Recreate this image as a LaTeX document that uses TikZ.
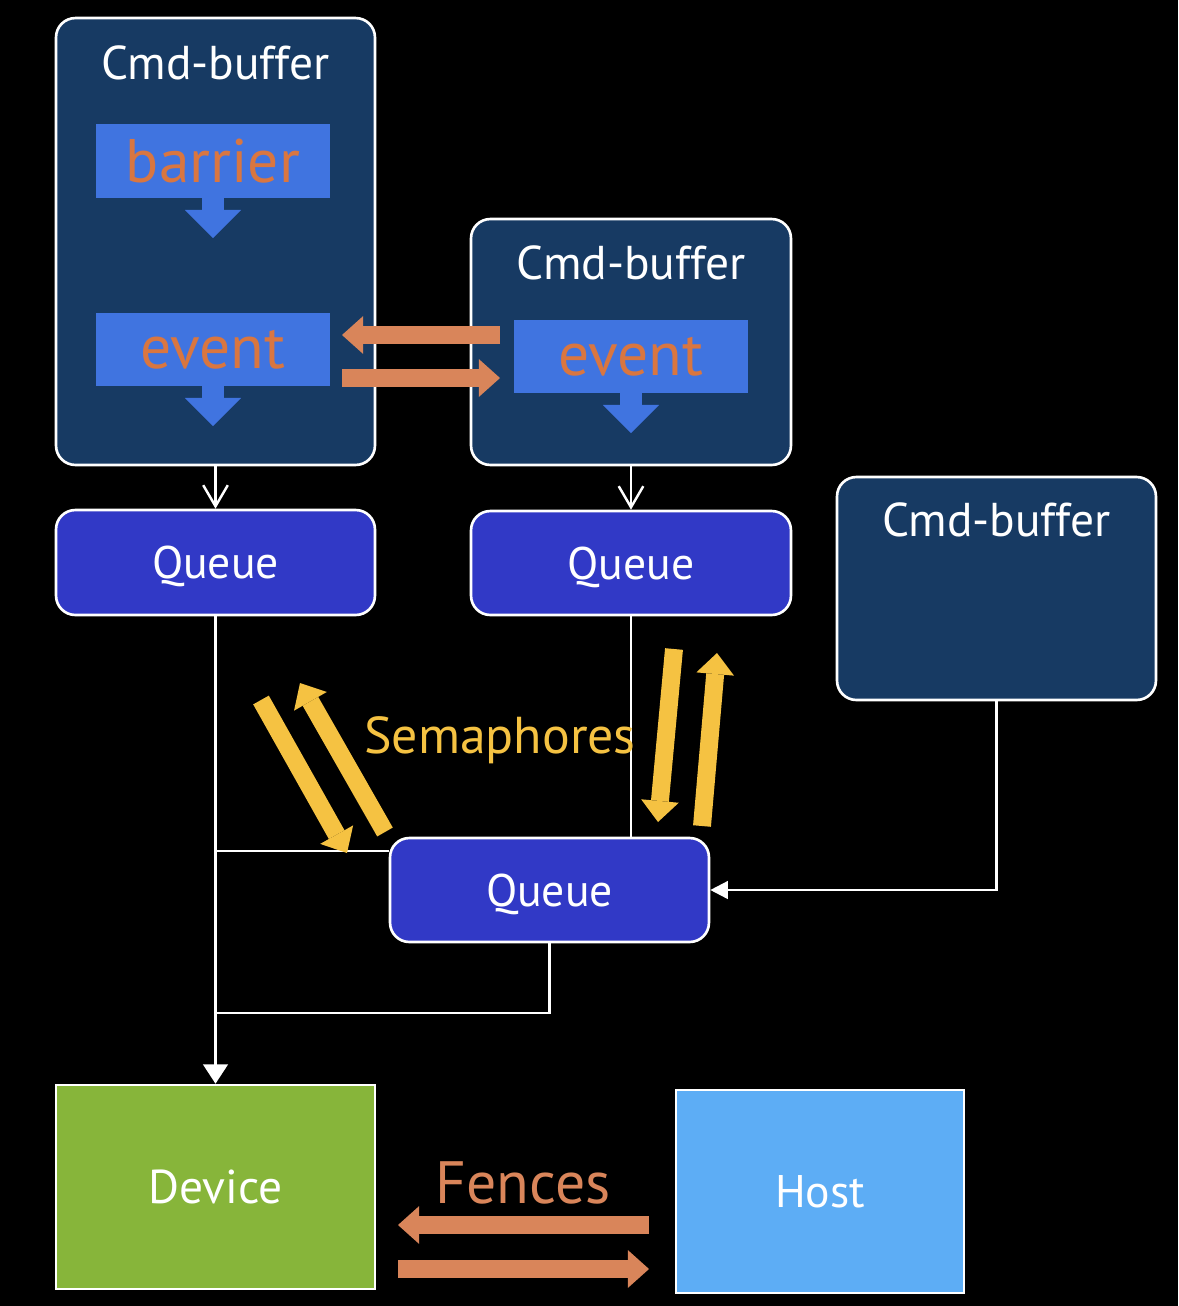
\documentclass[tikz,border=0pt]{standalone}
\usepackage{fontspec}
\setmainfont{PT Sans}
\usetikzlibrary{arrows.meta}
\definecolor{navy}{RGB}{23,58,99}
\definecolor{iblue}{RGB}{64,116,224}
\definecolor{otext}{RGB}{217,118,64}
\definecolor{ora}{RGB}{217,133,90}
\definecolor{qblue}{RGB}{49,57,198}
\definecolor{yel}{RGB}{245,194,66}
\definecolor{devgreen}{RGB}{135,181,58}
\definecolor{hostblue}{RGB}{93,173,245}
\begin{document}
\begin{tikzpicture}[x=0.02cm,y=-0.02cm,
  cmdbox/.style={draw=white,line width=1.5pt,fill=navy,rounded corners=11pt,inner sep=0pt},
  qbox/.style={draw=white,line width=1.5pt,fill=qblue,rounded corners=11pt,text=white,font=\fontsize{26}{31}\selectfont,inner sep=0pt,text depth=0pt},
  sqbox/.style={draw=white,line width=1.5pt,text=white,font=\fontsize{27}{32}\selectfont,inner sep=0pt},
  cmdtitle/.style={text=white,font=\fontsize{27}{32}\selectfont,inner sep=0pt},
  cmdinner/.style={fill=iblue,text=otext,font=\fontsize{35}{40}\selectfont,inner sep=0pt,minimum width=4.68cm},
  flow/.style={draw=iblue,line width=13pt,-{Triangle[width=32pt,length=16pt,line width=0pt]}},
  fat/.style={line width=10.2pt,-{Triangle[width=21.5pt,length=12pt,line width=0pt]}},
  wire/.style={draw=white,line width=1.4pt}
]
\fill[black] (0,0) rectangle (1178,1306);
\useasboundingbox (0,0) rectangle (1178,1306);

% command buffers
\node[cmdbox,minimum width=6.38cm,minimum height=8.94cm] (cb1) at (215.5,241.5) {};
\node[cmdtitle] (cb1t) at (215.5,63) {Cmd-buffer};
\node[cmdinner,minimum height=1.48cm] (bar) at (213,161) {barrier};
\node[cmdinner,minimum height=1.46cm] (ev1) at (213,349.5) {event};
\node[cmdbox,minimum width=6.4cm,minimum height=4.92cm] (cb2) at (631,342) {};
\node[cmdtitle] (cb2t) at (631,263) {Cmd-buffer};
\node[cmdinner,minimum height=1.46cm] (ev2) at (631,356.5) {event};
\node[cmdbox,minimum width=6.38cm,minimum height=4.46cm] (cb3) at (996.5,588.5) {};
\node[cmdtitle] (cb3t) at (996.5,520) {Cmd-buffer};

% inner flow arrows
\coordinate (bart) at (213,238);
\coordinate (ev1t) at (213,426);
\coordinate (ev2t) at (631,433);
\draw[flow] (bar.south) -- (bart);
\draw[flow] (ev1.south) -- (ev1t);
\draw[flow] (ev2.south) -- (ev2t);

% event arrows
\coordinate (e1a) at (500,335); \coordinate (e1b) at (342,335);
\coordinate (e2a) at (342,378); \coordinate (e2b) at (500,378);
\draw[fat,draw=ora] (e1a) -- (e1b);
\draw[fat,draw=ora] (e2a) -- (e2b);

% queues
\node[qbox,minimum width=6.38cm,minimum height=2.1cm] (q1) at (215.5,562.5) {Queue};
\node[qbox,minimum width=6.4cm,minimum height=2.08cm] (q2) at (631,563) {Queue};
\node[qbox,minimum width=6.38cm,minimum height=2.08cm] (q3) at (549.5,890) {Queue};
\node[sqbox,fill=devgreen,minimum width=6.38cm,minimum height=4.08cm] (dev) at (215.5,1187) {Device};
\node[sqbox,fill=hostblue,font=\fontsize{26}{31}\selectfont,minimum width=5.76cm,minimum height=4.06cm] (host) at (820,1191.5) {Host};

% wires
\draw[wire,-{Straight Barb[width=14pt,length=12pt]}] (cb1.south) -- (q1.north);
\draw[wire,-{Straight Barb[width=14pt,length=12pt]}] (cb2.south) -- (q2.north);
\draw[wire,-{Triangle[width=14pt,length=11pt]}] (q1.south) -- (dev.north);
\coordinate (j1) at (215.5,851);
\draw[wire] (j1) -- (j1 -| q3.west);
\draw[wire] (q2.south) -- (q2.south |- q3.north);
\coordinate (j2) at (215.5,1013);
\draw[wire] (q3.south) |- (j2);
\draw[wire,-{Triangle[width=10pt,length=10pt]}] (cb3.south) |- (q3.east);

% semaphores
\coordinate (s1a) at (261,700); \coordinate (s1b) at (347,853);
\coordinate (s2a) at (385,832); \coordinate (s2b) at (300,683);
\coordinate (s3a) at (674,649); \coordinate (s3b) at (658,822);
\coordinate (s4a) at (702,826); \coordinate (s4b) at (717,653);
\draw[fat,draw=yel] (s1a) -- (s1b);
\draw[fat,draw=yel] (s2a) -- (s2b);
\draw[fat,draw=yel] (s3a) -- (s3b);
\draw[fat,draw=yel] (s4a) -- (s4b);
\node[text=yel,font=\fontsize{29.5}{34}\selectfont,inner sep=0pt] (sem) at (500,740) {Semaphores};

% fences
\node[text=ora,font=\fontsize{34}{40}\selectfont,inner sep=0pt] (fen) at (523,1183) {Fences};
\coordinate (f1a) at (649,1225); \coordinate (f1b) at (398,1225);
\coordinate (f2a) at (398,1269); \coordinate (f2b) at (649,1269);
\draw[fat,draw=ora] (f1a) -- (f1b);
\draw[fat,draw=ora] (f2a) -- (f2b);
\end{tikzpicture}
\end{document}
